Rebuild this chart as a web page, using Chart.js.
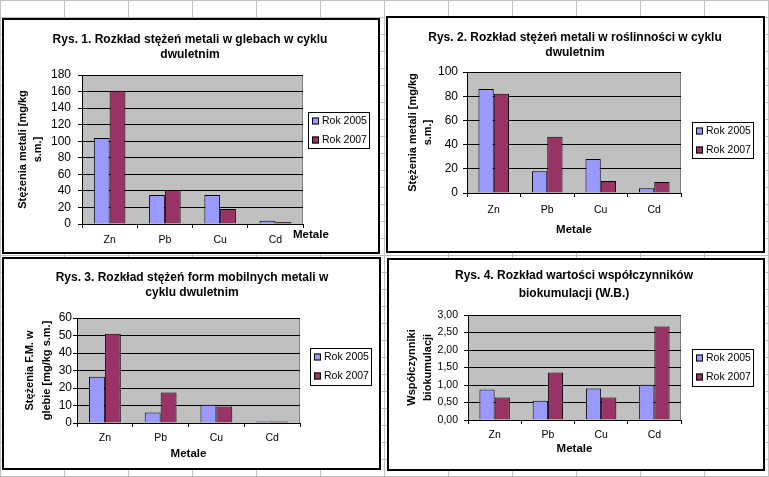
<!DOCTYPE html>
<html>
<head>
<meta charset="utf-8">
<script src="https://cdn.jsdelivr.net/npm/chart.js@4.4.1/dist/chart.umd.min.js"></script>
<style>
  html, body { margin: 0; padding: 0; }
  body {
    width: 769px; height: 477px; overflow: hidden; position: relative;
    background-color: #fff;
    background-image: linear-gradient(to right, #c0c0c0 1px, transparent 1px),
                      linear-gradient(to bottom, #c0c0c0 1px, transparent 1px);
    background-size: 64px 17px;
  }
  .box { position: absolute; box-sizing: border-box; border: 2px solid #000; background: #fff; }
  .box canvas { display: block; }
</style>
</head>
<body>
<div class="box" id="b1"><canvas id="c1"></canvas></div>
<div class="box" id="b2"><canvas id="c2"></canvas></div>
<div class="box" id="b3"><canvas id="c3"></canvas></div>
<div class="box" id="b4"><canvas id="c4"></canvas></div>
<script>
// data
var categories = ['Zn', 'Pb', 'Cu', 'Cd'];
var seriesNames = ['Rok 2005', 'Rok 2007'];

var soil2005 = [104, 35, 35, 4];
var soil2007 = [161, 41, 18, 2.5];
var plants2005 = [86, 18, 28, 4];
var plants2007 = [82, 46.5, 10, 9];
var mobile2005 = [26.5, 6, 10.5, 0.8];
var mobile2007 = [51, 17.5, 9.5, 0.9];
var bioacc2005 = [0.87, 0.55, 0.90, 1.01];
var bioacc2007 = [0.64, 1.36, 0.64, 2.67];

// y axis ranges [max, step]
var soilAxis = [180, 20];
var plantsAxis = [100, 20];
var mobileAxis = [60, 10];
var bioaccAxis = [3, 0.5];

var colors = ['#9999ff', '#993366'];
var FONT = "'Liberation Sans', Arial, sans-serif";

Chart.defaults.font.family = FONT;
Chart.defaults.color = '#000';

// plot area fill, chart titles, legend box and loose texts
var sheetChart = {
    id: 'sheetChart',
    beforeDraw: function(chart) {
        var a = chart.chartArea, ctx = chart.ctx;
        ctx.save();
        ctx.fillStyle = '#c0c0c0';
        ctx.fillRect(a.left, a.top, a.right - a.left, a.bottom - a.top);
        ctx.strokeStyle = '#808080';
        ctx.lineWidth = 1;
        ctx.strokeRect(Math.round(a.left) + 0.5, Math.round(a.top) + 0.5,
            Math.round(a.right - a.left) - 1, Math.round(a.bottom - a.top));
        ctx.restore();
    },
    afterDraw: function(chart, args, opts) {
        var ctx = chart.ctx;
        ctx.save();
        ctx.fillStyle = '#000';
        ctx.textBaseline = 'middle';

        // title
        ctx.font = 'bold 12px ' + FONT;
        ctx.textAlign = 'center';
        opts.title.forEach(function(line, i) {
            ctx.fillText(line, opts.titleX, opts.titleY[i]);
        });

        // extra texts
        (opts.texts || []).forEach(function(t) {
            ctx.font = t.font + ' ' + FONT;
            ctx.textAlign = t.align;
            ctx.fillText(t.text, t.x, t.y);
        });

        // legend
        var lg = opts.legend;
        ctx.fillStyle = '#fff';
        ctx.fillRect(lg.x, lg.y, lg.w, lg.h);
        ctx.strokeStyle = '#000';
        ctx.lineWidth = 1;
        ctx.strokeRect(lg.x + 0.5, lg.y + 0.5, lg.w - 1, lg.h - 1);
        ctx.font = '10.5px ' + FONT;
        ctx.textAlign = 'left';
        chart.data.datasets.forEach(function(ds, i) {
            var cy = lg.y + (i === 0 ? 9 : 28);
            ctx.fillStyle = ds.backgroundColor;
            ctx.fillRect(lg.x + 4, cy - 3.5, 7, 7);
            ctx.strokeRect(lg.x + 4.5, cy - 3, 6, 6);
            ctx.fillStyle = '#000';
            ctx.fillText(ds.label, lg.x + 14, cy + 0.5);
        });
        ctx.restore();
    }
};

function makeChart(id, cfg) {
    var box = document.getElementById('b' + id);
    box.style.left = cfg.box[0] + 'px';
    box.style.top = cfg.box[1] + 'px';
    box.style.width = cfg.box[2] + 'px';
    box.style.height = cfg.box[3] + 'px';

    var ox = cfg.box[0] + 2, oy = cfg.box[1] + 2;
    var cw = cfg.box[2] - 4, ch = cfg.box[3] - 4;
    var canvas = document.getElementById('c' + id);
    canvas.width = cw;
    canvas.height = ch;
    canvas.style.width = cw + 'px';
    canvas.style.height = ch + 'px';

    var a = cfg.area; // left, top, right, bottom on the page

    return new Chart(canvas, {
        type: 'bar',
        data: {
            labels: categories,
            datasets: [
                { label: seriesNames[0], data: cfg.values[0], backgroundColor: colors[0], borderColor: '#000', borderWidth: 1 },
                { label: seriesNames[1], data: cfg.values[1], backgroundColor: colors[1], borderColor: '#000', borderWidth: 1 }
            ]
        },
        options: {
            responsive: false,
            animation: false,
            devicePixelRatio: 1,
            layout: { padding: { left: 0, top: a[1] - oy, right: ox + cw - a[2], bottom: 0 } },
            datasets: { bar: { categoryPercentage: 2 / 3.5, barPercentage: 1 } },
            scales: {
                x: {
                    grid: { drawOnChartArea: false, drawTicks: true, tickLength: 4, color: '#000', tickColor: '#000' },
                    border: { display: true, color: '#000', z: 1 },
                    ticks: { padding: cfg.xPad, color: '#000', font: { size: 10.5 } },
                    title: {
                        display: !!cfg.xTitle, text: 'Metale', color: '#000',
                        font: { size: 11.5, weight: 'bold' },
                        padding: { top: 0, bottom: cfg.xTitlePad || 0 }
                    },
                    afterFit: function(s) { s.height = oy + ch - a[3]; }
                },
                y: {
                    min: 0,
                    max: cfg.axis[0],
                    grid: { color: '#000', tickColor: '#000', drawTicks: true, tickLength: 4 },
                    border: { display: true, color: '#000', z: 1 },
                    ticks: {
                        stepSize: cfg.axis[1], padding: cfg.yPad, color: '#000',
                        autoSkip: false,
                        font: { size: cfg.yFont },
                        callback: cfg.yFormat || function(v) { return v; }
                    },
                    title: {
                        display: true, text: cfg.yTitle, color: '#000',
                        font: { size: 11, weight: 'bold', lineHeight: cfg.yTitleLH + 'px' },
                        padding: { top: cfg.yTitlePad, bottom: 0 }
                    },
                    afterFit: function(s) { s.width = a[0] - ox; }
                }
            },
            plugins: {
                legend: { display: false },
                title: { display: false },
                tooltip: { enabled: false },
                sheetChart: {
                    title: cfg.title,
                    titleX: cfg.titleX,
                    titleY: cfg.titleY,
                    texts: cfg.texts,
                    legend: cfg.legend
                }
            }
        },
        plugins: [sheetChart]
    });
}

makeChart(1, {
    box: [2, 18, 378, 236],
    area: [82, 75, 303, 224],
    values: [soil2005, soil2007],
    axis: soilAxis,
    yFont: 12, yPad: 7, xPad: 6,
    yTitle: ['Stężenia metali [mg/kg', 's.m.]'], yTitleLH: 15, yTitlePad: 11.5,
    xTitle: false,
    title: ['Rys. 1. Rozkład stężeń metali w glebach w cyklu', 'dwuletnim'],
    titleX: 186, titleY: [20, 35],
    texts: [{ text: 'Metale', x: 289, y: 215, align: 'left', font: 'bold 11.5px' }],
    legend: { x: 304, y: 92, w: 62, h: 37 }
});

makeChart(2, {
    box: [386, 16, 379, 237],
    area: [467, 72, 681, 193],
    values: [plants2005, plants2007],
    axis: plantsAxis,
    yFont: 12, yPad: 5, xPad: 7,
    yTitle: ['Stężenia metali [mg/kg', 's.m.]'], yTitleLH: 15, yTitlePad: 17.5,
    xTitle: true, xTitlePad: 14,
    title: ['Rys. 2. Rozkład stężeń metali w roślinności w cyklu', 'dwuletnim'],
    titleX: 187, titleY: [20, 35],
    legend: { x: 304, y: 104, w: 62, h: 37 }
});

makeChart(3, {
    box: [2, 257, 379, 213],
    area: [77, 318, 300, 423],
    values: [mobile2005, mobile2007],
    axis: mobileAxis,
    yFont: 12, yPad: 1, xPad: 5,
    yTitle: ['Stężenia F.M. w', 'glebie [mg/kg s.m.]'], yTitleLH: 16.5, yTitlePad: 17.75,
    xTitle: true, xTitlePad: 7,
    title: ['Rys. 3. Rozkład stężeń form mobilnych metali w', 'cyklu dwuletnim'],
    titleX: 188, titleY: [19, 34],
    legend: { x: 306, y: 89, w: 62, h: 38 }
});

makeChart(4, {
    box: [387, 258, 378, 213],
    area: [468, 315, 681, 420],
    values: [bioacc2005, bioacc2007],
    axis: bioaccAxis,
    yFont: 10.5, yPad: 6, xPad: 5,
    yFormat: function(v) { return v.toFixed(2).replace('.', ','); },
    yTitle: ['Współczynniki', 'biokumulacji'], yTitleLH: 15.4, yTitlePad: 15.6,
    xTitle: true, xTitlePad: 13,
    title: ['Rys. 4. Rozkład wartości współczynników', 'biokumulacji (W.B.)'],
    titleX: 185, titleY: [16, 33.5],
    legend: { x: 303, y: 89, w: 62, h: 38 }
});
</script>
</body>
</html>
